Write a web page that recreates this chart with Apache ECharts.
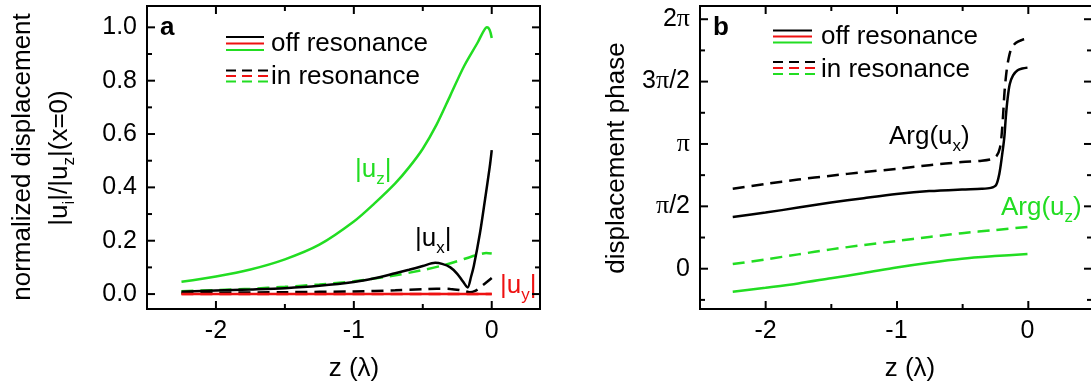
<!DOCTYPE html>
<html>
<head>
<meta charset="utf-8">
<script src="https://cdn.jsdelivr.net/npm/echarts@6/dist/echarts.min.js"></script>
<style>
  html, body { margin: 0; padding: 0; background: #fff; }
  #chart { width: 1091px; height: 390px; }
</style>
</head>
<body>
<div id="chart"></div>
<script>
// ---- panel a: |u_i| / |u_z|(x=0) against z (in wavelengths) ----
const zUzOff = [-2.25, -2.0, -1.75, -1.5, -1.25, -1.0, -0.85, -0.7, -0.6, -0.5, -0.4, -0.3, -0.2, -0.1, -0.06, -0.035, -0.015, 0];
const uzOff  = [0.046, 0.066, 0.092, 0.13, 0.185, 0.272, 0.34, 0.415, 0.475, 0.545, 0.635, 0.745, 0.855, 0.945, 0.985, 1.0, 0.99, 0.96];

const zUzIn = [-2.25, -2.0, -1.75, -1.5, -1.25, -1.0, -0.75, -0.5, -0.35, -0.25, -0.15, -0.08, -0.04, 0];
const uzIn  = [0.011, 0.015, 0.02, 0.027, 0.036, 0.048, 0.066, 0.09, 0.108, 0.123, 0.14, 0.15, 0.154, 0.152];

const zUxOff = [-2.25, -2.0, -1.75, -1.5, -1.25, -1.0, -0.85, -0.7, -0.6, -0.5, -0.41, -0.36, -0.3, -0.25, -0.21, -0.175, -0.15, -0.13, -0.085, -0.05, -0.015, 0];
const uxOff  = [0.009, 0.013, 0.017, 0.022, 0.031, 0.045, 0.059, 0.078, 0.091, 0.105, 0.117, 0.113, 0.1, 0.076, 0.048, 0.025, 0.065, 0.105, 0.23, 0.35, 0.475, 0.54];

const zUxIn = [-2.25, -2.0, -1.5, -1.0, -0.7, -0.5, -0.4, -0.3, -0.2, -0.16, -0.12, -0.08, -0.04, 0];
const uxIn  = [0.004, 0.005, 0.007, 0.01, 0.014, 0.018, 0.02, 0.019, 0.012, 0.007, 0.012, 0.027, 0.043, 0.06];

const zUy  = [-2.25, 0];
const uyOff = [0, 0];
const uyIn  = [0, 0];

// ---- panel b: phase (in units of pi) ----
const zArgXOff = [-2.25, -2.0, -1.75, -1.5, -1.25, -1.0, -0.75, -0.5, -0.35, -0.28, -0.24, -0.215, -0.195, -0.177, -0.165, -0.152, -0.135, -0.11, -0.075, -0.04, 0];
const argXOff  = [0.415, 0.45, 0.49, 0.53, 0.565, 0.598, 0.622, 0.635, 0.64, 0.648, 0.67, 0.76, 0.9, 1.05, 1.22, 1.36, 1.48, 1.55, 1.59, 1.605, 1.612];

const zArgXIn = [-2.25, -2.0, -1.75, -1.5, -1.25, -1.0, -0.75, -0.5, -0.35, -0.27, -0.235, -0.21, -0.195, -0.185, -0.175, -0.16, -0.145, -0.125, -0.09, -0.04, 0];
const argXIn  = [0.641, 0.68, 0.715, 0.745, 0.775, 0.8, 0.83, 0.855, 0.866, 0.88, 0.905, 0.97, 1.1, 1.25, 1.42, 1.58, 1.68, 1.76, 1.81, 1.835, 1.845];

const zArgZ    = [-2.25, -2.0, -1.75, -1.5, -1.25, -1.0, -0.75, -0.5, -0.25, 0];
const argZOff  = [-0.184, -0.152, -0.118, -0.076, -0.035, 0.01, 0.048, 0.08, 0.101, 0.118];
const argZIn   = [0.037, 0.075, 0.115, 0.155, 0.19, 0.222, 0.255, 0.285, 0.31, 0.335];

// ticks
const zMajor = [-2, -1, 0];
const zMinor = [-1.5, -0.5];
const ampMajor = [0, 0.2, 0.4, 0.6, 0.8, 1.0];
const ampMinor = [0.1, 0.3, 0.5, 0.7, 0.9];
const phaseMajor = [0, 0.5, 1, 1.5, 2];
const phaseMinor = [-0.25, 0.25, 0.75, 1.25, 1.75];
const phaseLabels = {0: '0', 0.5: '{p|π}/2', 1: '{p|π}', 1.5: '3{p|π}/2', 2: '2{p|π}'};

const FONT = '"Liberation Sans", Arial, sans-serif';
const GREEN = '#22dd22';
const RED = '#ee1111';
const BLACK = '#000000';

const chart = echarts.init(document.getElementById('chart'));

// plot boxes
const boxA = { left: 147, top: 6, width: 393, height: 303 };
const boxB = { left: 700, top: 6, width: 392, height: 303 };

function makeAxis(gridIndex, position, min, max, labels, formatter) {
  return {
    type: 'value', gridIndex, position, min, max,
    axisLine: { show: false, onZero: false },
    splitLine: { show: false },
    axisTick: { show: false },
    axisLabel: {
      show: true, customValues: labels, formatter, margin: 10,
      color: '#000', fontSize: 25, fontFamily: FONT,
      rich: { p: { fontFamily: '"Liberation Serif", serif', fontSize: 26, color: '#000' } }
    }
  };
}

const xRangeA = [-2.5, 0.35], xRangeB = [-2.5, 0.485];
const yRangeA = [-0.056, 1.08], yRangeB = [-0.323, 2.106];

const xAxes = [
  makeAxis(0, 'bottom', xRangeA[0], xRangeA[1], zMajor, v => String(v)),
  makeAxis(1, 'bottom', xRangeB[0], xRangeB[1], zMajor, v => String(v))
];
const yAxes = [
  makeAxis(0, 'left', yRangeA[0], yRangeA[1], ampMajor, v => v.toFixed(1)),
  makeAxis(1, 'left', yRangeB[0], yRangeB[1], phaseMajor, v => phaseLabels[v])
];

function line(axisIndex, zs, vs, color, dashed, z) {
  return {
    type: 'line', xAxisIndex: axisIndex, yAxisIndex: axisIndex,
    data: zs.map((x, i) => [x, vs[i]]),
    showSymbol: false, smooth: 0.3, silent: true, z: z,
    lineStyle: { color, width: 2.5, type: dashed ? [12, 7] : 'solid' }
  };
}

const series = [
  line(0, zUy, uyIn, RED, true, 2),
  line(0, zUxIn, uxIn, BLACK, true, 3),
  line(0, zUzIn, uzIn, GREEN, true, 3),
  line(0, zUy, uyOff, RED, false, 5),
  line(0, zUxOff, uxOff, BLACK, false, 4),
  line(0, zUzOff, uzOff, GREEN, false, 4),
  line(1, zArgXIn, argXIn, BLACK, true, 3),
  line(1, zArgZ, argZIn, GREEN, true, 3),
  line(1, zArgXOff, argXOff, BLACK, false, 4),
  line(1, zArgZ, argZOff, GREEN, false, 4)
];

// text helpers (subscripts laid out with measured widths)
const measure = document.createElement('canvas').getContext('2d');
function textWidth(str, size, weight) {
  measure.font = (weight || 'normal') + ' ' + size + 'px ' + FONT;
  return measure.measureText(str).width;
}
function textEl(str, x, y, color, size, weight, family) {
  return {
    type: 'text', x, y, silent: true,
    style: { text: str, fill: color, fontSize: size, fontWeight: weight || 'normal',
             fontFamily: family || FONT, align: 'left', verticalAlign: 'middle',
             textAlign: 'left', textVerticalAlign: 'middle' }
  };
}
// parts: [string, isSubscript]
function subText(parts, color, x, y, rotated) {
  let cx = 0;
  const children = parts.map(([s, sub]) => {
    const size = sub ? 17 : 26;
    const el = textEl(s, cx, sub ? 9 : 0, color, size);
    cx += textWidth(s, size);
    return el;
  });
  if (rotated) {
    children.forEach(c => { c.x -= cx / 2; });
    return { type: 'group', x, y, rotation: Math.PI / 2, children };
  }
  return { type: 'group', x, y, children };
}
function sample(x1, x2, y, color, dashed) {
  return {
    type: 'line', silent: true,
    shape: { x1, y1: y, x2, y2: y },
    style: { stroke: color, lineWidth: 2, lineDash: dashed ? [10, 6] : null }
  };
}

// frame and inward tick marks as filled rectangles (linear map of each axis range onto its box)
function frameFor(box, xr, yr, xMaj, xMin, yMaj, yMin) {
  const L = box.left, R = box.left + box.width, T = box.top, B = box.top + box.height;
  const px = v => L + (v - xr[0]) / (xr[1] - xr[0]) * box.width;
  const py = v => B - (v - yr[0]) / (yr[1] - yr[0]) * box.height;
  const out = [];
  const bar = (x, y, w, h) => out.push({
    type: 'rect', silent: true, z: 100,
    shape: { x, y, width: w, height: h },
    style: { fill: BLACK }
  });
  // frame
  bar(L - 1, T - 1, box.width + 2, 2);
  bar(L - 1, B - 1, box.width + 2, 2);
  bar(L - 1, T - 1, 2, box.height + 2);
  bar(R - 1, T - 1, 2, box.height + 2);
  // ticks
  const xt = (v, len) => { const x = px(v); bar(x - 1, B - len, 2, len); bar(x - 1, T, 2, len); };
  const yt = (v, len) => { const y = py(v); bar(L, y - 1, len, 2); bar(R - len, y - 1, len, 2); };
  xMaj.forEach(v => xt(v, 8));
  xMin.forEach(v => xt(v, 5));
  yMaj.forEach(v => yt(v, 8));
  yMin.forEach(v => yt(v, 5));
  return out;
}

const graphic = [
  // panel letters
  textEl('a', 160, 28, BLACK, 26, 'bold'),
  textEl('b', 713, 28, BLACK, 26, 'bold'),
  // legend a
  sample(226, 264, 37, BLACK), sample(226, 264, 43.5, RED), sample(226, 264, 50, GREEN),
  sample(226, 268, 70.5, BLACK, true), sample(226, 268, 76, RED, true), sample(226, 268, 81.5, GREEN, true),
  textEl('off resonance', 271, 44, BLACK, 26),
  textEl('in resonance', 271, 77, BLACK, 26),
  // legend b
  sample(773, 812, 30.5, BLACK), sample(773, 812, 36.5, RED), sample(773, 812, 42.5, GREEN),
  sample(773, 816, 62, BLACK, true), sample(773, 816, 68, RED, true), sample(773, 816, 74, GREEN, true),
  textEl('off resonance', 821, 36.5, BLACK, 26),
  textEl('in resonance', 821, 69.5, BLACK, 26),
  // curve labels
  subText([['|u', 0], ['z', 1], ['|', 0]], GREEN, 355, 170),
  subText([['|u', 0], ['x', 1], ['|', 0]], BLACK, 415, 239),
  subText([['|u', 0], ['y', 1], ['|', 0]], RED, 500, 286),
  subText([['Arg(u', 0], ['x', 1], [')', 0]], BLACK, 889, 137),
  subText([['Arg(u', 0], ['z', 1], [')', 0]], GREEN, 1001, 208),
  // axis names
  subText([['normalized displacement', 0]], BLACK, 23, 157, true),
  subText([['|u', 0], ['i', 1], ['|/|u', 0], ['z', 1], ['|(x=0)', 0]], BLACK, 60, 158, true),
  subText([['displacement phase', 0]], BLACK, 617, 158, true),
  subText([['z (λ)', 0]], BLACK, 354 - textWidth('z (λ)', 26) / 2, 369),
  subText([['z (λ)', 0]], BLACK, 910 - textWidth('z (λ)', 26) / 2, 369)
].concat(
  frameFor(boxA, xRangeA, yRangeA, zMajor, zMinor, ampMajor, ampMinor),
  frameFor(boxB, xRangeB, yRangeB, zMajor, zMinor, phaseMajor, phaseMinor)
);

chart.setOption({
  animation: false,
  grid: [
    Object.assign({ show: false }, boxA),
    Object.assign({ show: false }, boxB)
  ],
  xAxis: xAxes,
  yAxis: yAxes,
  series: series,
  graphic: graphic
});
</script>
</body>
</html>
